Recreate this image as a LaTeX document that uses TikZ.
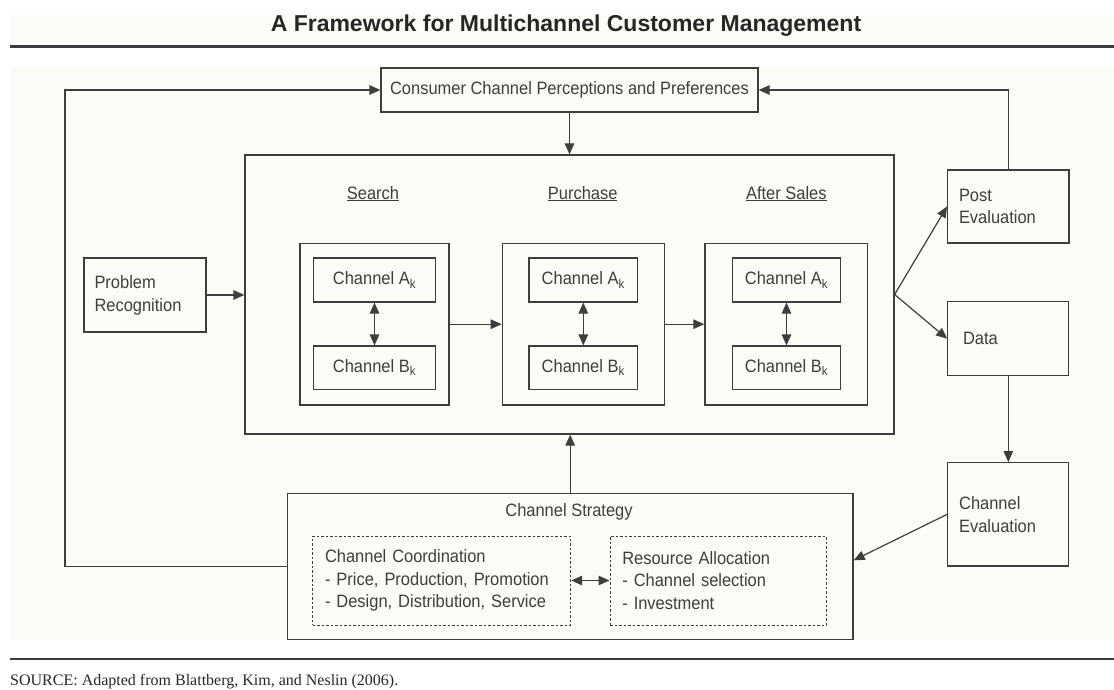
\documentclass[tikz,border=0pt]{standalone}
\usepackage{fontspec}
\setmainfont{Liberation Sans}
\newfontfamily\boxfont{Liberation Sans}[FakeStretch=0.92]
\newfontfamily\srcfont{Liberation Serif}
\usetikzlibrary{arrows.meta}
\definecolor{paper}{RGB}{252,252,246}
\definecolor{ink}{RGB}{62,62,62}

\begin{document}
\begin{tikzpicture}[x=1pt,y=-1pt,
  >={Triangle[length=11pt,width=9.5pt]},
  box/.style={draw=ink,line width=1.2pt,inner sep=0pt,text=ink,font=\boxfont\fontsize{17.9}{22.8}\selectfont},
  dbox/.style={draw=ink,line width=1pt,dash pattern=on 2.5pt off 2pt,inner sep=0pt,text=ink,font=\boxfont\fontsize{17.9}{22.5}\selectfont},
  txt/.style={inner sep=0pt,text=ink,font=\boxfont\fontsize{17.9}{22.5}\selectfont},
  link/.style={draw=ink,line width=1.2pt}]
\useasboundingbox (0,0) rectangle (1114,690);
\fill[paper] (10,15) rectangle (1114,43);
\fill[paper] (10,67) rectangle (1114,640);
\draw[ink,line width=3pt] (10,47) -- (1114,47);
\draw[ink,line width=1.5pt] (10,659) -- (1114,659);
\node[inner sep=0pt,text=black!85,font=\fontsize{23}{27}\selectfont\bfseries] (title) at (566,26) {A Framework for Multichannel Customer Management};
\node[inner sep=0pt,anchor=west,text=black!85,font=\srcfont\fontsize{16}{19}\selectfont] (source) at (10,682) {SOURCE: Adapted from Blattberg, Kim, and Neslin (2006).};

\node[box,minimum width=377pt,minimum height=44pt] (cons) at (569.5,90) {Consumer Channel Perceptions and Preferences};
\node[box,minimum width=649pt,minimum height=279pt] (main) at (569.5,294.5) {};
\node[box,minimum width=122pt,minimum height=74pt,text width=101pt,align=left] (prob) at (145,295) {Problem\\Recognition};

\node[txt,anchor=base] (hsearch) at (373,199) {\underline{Search}};
\node[txt,anchor=base] (hpurch) at (582.7,199) {\underline{Purchase}};
\node[txt,anchor=base] (hafter) at (786.3,199) {\underline{After Sales}};

\node[box,minimum width=149pt,minimum height=161.7pt] (srch) at (374.5,324.2) {};
\node[box,minimum width=122.4pt,minimum height=44pt] (srchA) at (374.5,280) {Channel A\textsubscript{k}};
\node[box,minimum width=122.4pt,minimum height=43.3pt] (srchB) at (374.5,367.7) {Channel B\textsubscript{k}};
\node[box,minimum width=162pt,minimum height=161.7pt] (purch) at (583.3,324.2) {};
\node[box,minimum width=108.7pt,minimum height=44pt] (purchA) at (583.3,280) {Channel A\textsubscript{k}};
\node[box,minimum width=108.7pt,minimum height=43.3pt] (purchB) at (583.3,367.7) {Channel B\textsubscript{k}};
\node[box,minimum width=162.7pt,minimum height=161.7pt] (after) at (786.3,324.2) {};
\node[box,minimum width=108.4pt,minimum height=44pt] (afterA) at (786.5,280) {Channel A\textsubscript{k}};
\node[box,minimum width=108.4pt,minimum height=43.3pt] (afterB) at (786.5,367.7) {Channel B\textsubscript{k}};

\node[box,minimum width=121.3pt,minimum height=73pt,text width=98.6pt,align=left] (post) at (1008.3,206.5) {Post\\Evaluation};
\node[box,minimum width=121pt,minimum height=74pt,text width=90.6pt,align=left] (data) at (1008.3,338.7) {Data};
\node[box,minimum width=121pt,minimum height=103.3pt,text width=98.4pt,align=left] (cheval) at (1008.3,514.3) {Channel\\Evaluation};

\node[box,minimum width=565.7pt,minimum height=146pt] (strat) at (570.2,566.3) {};
\node[txt] (hstrat) at (569,512.3) {Channel Strategy};
\node[dbox,minimum width=258pt,minimum height=89pt,text width=233.4pt,align=left] (coord) at (441.7,580.5) {Channel Coordination\\- Price, Production, Promotion\\- Design, Distribution, Service};
\node[dbox,minimum width=216pt,minimum height=89pt,text width=191.4pt,align=left] (alloc) at (718,580.5) {Resource Allocation\\- Channel selection\\- Investment\\[3pt]};

\coordinate (loop) at (65,300);
\draw[link,->] (cons.south) -- (cons.south |- main.north);
\draw[link,->] (strat.north) -- (strat.north |- main.south);
\draw[link,->] (prob.east) -- (prob.east -| main.west);
\draw[link,->] (srch) -- (purch);
\draw[link,->] (purch) -- (after);
\draw[link,<->] (srchA) -- (srchB);
\draw[link,<->] (purchA) -- (purchB);
\draw[link,<->] (afterA) -- (afterB);
\draw[link,->] (main.east) -- (post.west);
\draw[link,->] (main.east) -- (data.west);
\draw[link,->] (data) -- (cheval);
\draw[link,->] (cheval.west) -- ([yshift=6pt]strat.east);
\draw[link,->] (post.north) |- (cons.east);
\draw[link,->] (strat.west) -| (loop) |- (cons.west);
\draw[link,<->] (coord) -- (alloc);
\end{tikzpicture}
\end{document}
